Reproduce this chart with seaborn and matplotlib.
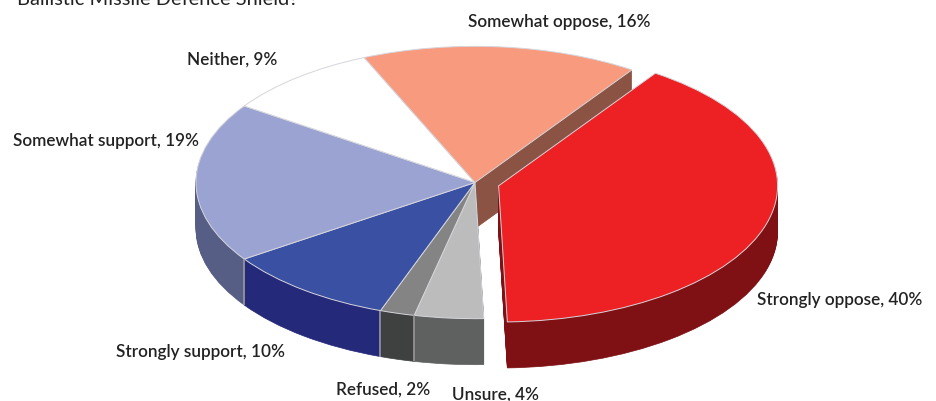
import matplotlib
matplotlib.use('Agg')
import matplotlib.pyplot as plt
import numpy as np
import seaborn as sns

labels = ['Strongly oppose, 40%', 'Unsure, 4%', 'Refused, 2%', 'Strongly support, 10%',
          'Somewhat support, 19%', 'Neither, 9%', 'Somewhat oppose, 16%']
values = [40, 4, 2, 10, 19, 9, 16]
explode = [0.088, 0, 0, 0, 0, 0, 0]
top_colors = ['#ed2024', '#bcbcbc', '#848484', '#3a50a2', '#9ba3d2', '#ffffff', '#f89a7e']
side_colors = ['#7f1013', '#5f6160', '#3f4141', '#25297a', '#565e85', '#d8d8d8', '#8a5343']
label_pos = [(757, 300), (452, 395), (336, 390), (116, 352), (13, 141), (187, 60), (468, 22)]

sns.set_theme(style='white')
plt.rcParams['font.family'] = ['Lato', 'DejaVu Sans']

# squash the pie so it looks tilted, y data is pixels / squash
squash = 0.488
cx, cy = 475, 183.5
radius = 279
depth = 46
start = 55.8
# pie() takes explode in data units, not as a share of the radius
explode_px = [e * radius for e in explode]

fig = plt.figure(figsize=(9.37, 4.02), dpi=100)
ax = fig.add_axes([0, 0, 1, 1])

# side walls: same pie stacked from the bottom up
for d in range(depth, 0, -1):
    layer, _ = ax.pie(values, colors=sns.color_palette(side_colors), explode=explode_px, startangle=start,
                      counterclock=False, radius=radius, center=(cx, -(cy + d) / squash),
                      wedgeprops={'linewidth': 0.5})
    for w in layer:
        w.set_edgecolor(w.get_facecolor())

wedges, _ = ax.pie(values, colors=sns.color_palette(top_colors), explode=explode_px, startangle=start,
                   counterclock=False, radius=radius, center=(cx, -cy / squash),
                   wedgeprops={'linewidth': 0.7, 'edgecolor': '#d6d6dc'})

ax.set_aspect('auto')
ax.set_xlim(0, 937)
ax.set_ylim(-402 / squash, 0)
ax.axis('off')

# light seams where the front wall pieces meet
edges = start - np.cumsum(values) * 3.6
for angle in edges[1:4]:
    a = np.deg2rad(angle)
    x = cx + radius * np.cos(a)
    y = cy - radius * squash * np.sin(a)
    ax.plot([x, x], [-y / squash, -(y + depth) / squash], color='#9a9a9a', lw=1.2, solid_capstyle='butt')

for text, (x, y) in zip(labels, label_pos):
    fig.text(x / 937, 1 - y / 402, text, fontsize=12.3, fontweight='semibold', color='#222222',
             ha='left', va='center')

fig.text(17 / 937, 1 - 5 / 402, 'Ballistic Missile Defence Shield?', fontsize=14.4, color='#222222',
         ha='left', va='baseline')

fig.savefig('out.png', dpi=100, facecolor='white')
